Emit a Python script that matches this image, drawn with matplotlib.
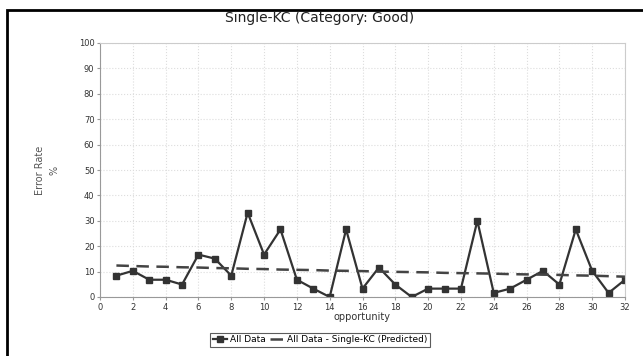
import matplotlib.pyplot as plt
from matplotlib.patches import Rectangle

# Opportunity numbers
opportunity = list(range(1, 33))

# Observed error rate (%) - All Data
all_data = [8.4, 10.3, 6.8, 6.8, 4.9, 16.7, 15.1, 8.4, 33.2, 16.7,
            26.6, 6.8, 3.3, 0.0, 26.6, 3.3, 11.6, 4.9, 0.0, 3.3,
            3.3, 3.3, 30.0, 1.6, 3.3, 6.8, 10.3, 4.9, 26.6, 10.3,
            1.6, 6.8]

# Predicted error rate (%) - Single-KC model
predicted = [12.4, 12.2, 12.0, 11.9, 11.7, 11.6, 11.4, 11.3, 11.1, 11.0,
             10.8, 10.7, 10.6, 10.4, 10.3, 10.2, 10.0, 9.9, 9.8, 9.7,
             9.5, 9.4, 9.3, 9.2, 9.0, 8.9, 8.8, 8.7, 8.5, 8.4,
             8.2, 8.0]

x_ticks = list(range(0, 33, 2))
y_ticks = list(range(0, 101, 10))

fig = plt.figure(figsize=(6.43, 3.56), dpi=100)
ax = fig.add_axes([100 / 643, 1 - 297 / 356, 525 / 643, 254 / 356])

# Outer frame of the chart panel
fig.patches.append(Rectangle((7 / 643, -0.05), 1.0, 1 - 10 / 356 + 0.05,
                             transform=fig.transFigure, fill=False,
                             edgecolor='black', linewidth=2.0))

ax.plot(opportunity, all_data, color='#333333', linewidth=1.6,
        marker='s', markersize=5, label='All Data')
ax.plot(opportunity, predicted, color='#444444', linewidth=1.8,
        linestyle=(0, (5, 3)), label='All Data - Single-KC (Predicted)')

ax.set_xlim(0, 32)
ax.set_ylim(0, 100)
ax.set_xticks(x_ticks)
ax.set_yticks(y_ticks)
ax.tick_params(labelsize=6, length=2, color='#999999', labelcolor='#333333', pad=2)
ax.grid(True, color='#dddddd', linestyle=':', linewidth=0.8)
for side in ax.spines.values():
    side.set_color('#cccccc')
    side.set_linewidth(0.8)
ax.spines['left'].set_color('#999999')
ax.spines['bottom'].set_color('#999999')

ax.set_xlabel('opportunity', fontsize=7, color='#333333', labelpad=0)
fig.text(47 / 643, 1 - 170 / 356, 'Error Rate\n%', rotation=90, fontsize=7,
         color='#555555', ha='center', va='center', linespacing=1.6)
fig.text(320 / 643, 1 - 18 / 356, 'Single-KC (Category: Good)', fontsize=10,
         ha='center', va='center', color='#222222')

leg = fig.legend(loc='center', bbox_to_anchor=(320 / 643, 1 - 340 / 356), ncol=2,
                 fontsize=6.5, frameon=True, fancybox=False, handlelength=1.6,
                 handletextpad=0.3, columnspacing=0.5, borderpad=0.3,
                 edgecolor='#333333')
leg.get_frame().set_linewidth(0.8)

fig.savefig('out.png', dpi=100)
